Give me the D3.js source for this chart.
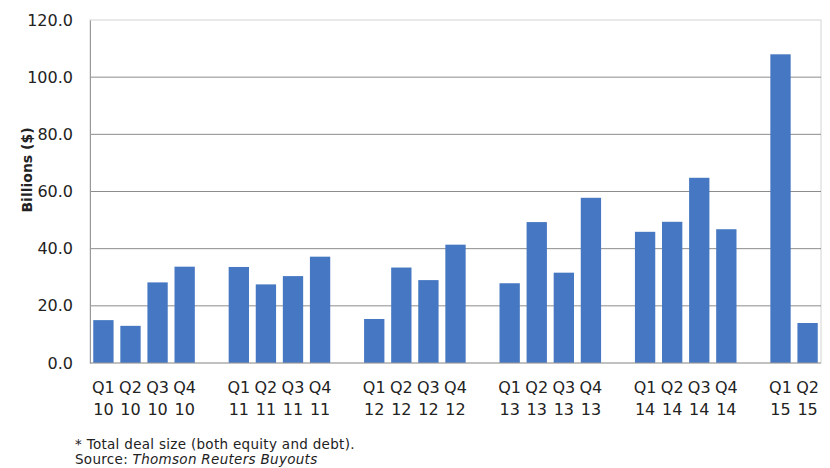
<!DOCTYPE html>
<html>
<head>
<meta charset="utf-8">
<script src="https://cdn.jsdelivr.net/npm/d3@7"></script>
<style>
  html, body { margin: 0; padding: 0; background: #fff; }
  svg { display: block; }
  text { font-family: "DejaVu Sans", "Open Sans", sans-serif; fill: #222; }
</style>
</head>
<body>
<svg id="chart" width="830" height="468"></svg>
<script>
// Quarterly buyout deal value, billions of dollars
const quarters = ["Q1", "Q2", "Q3", "Q4"];
const years = ["10", "11", "12", "13", "14", "15"];
const quarterCounts = [4, 4, 4, 4, 4, 2];
const values = [
  15.0, 13.0, 28.2, 33.7,
  33.6, 27.5, 30.4, 37.2,
  15.4, 33.4, 29.0, 41.4,
  27.9, 49.3, 31.6, 57.8,
  45.9, 49.4, 64.8, 46.8,
  108.0, 14.0
];
const yTicks = [0, 20, 40, 60, 80, 100, 120];

// Build category slots: each year's quarters followed by an empty spacer slot
const bars = [];
const slots = [];
let vi = 0;
years.forEach((yr, yi) => {
  for (let q = 0; q < quarterCounts[yi]; q++) {
    const key = quarters[q] + "-" + yr;
    slots.push(key);
    bars.push({ key, quarter: quarters[q], year: yr, value: values[vi++] });
  }
  if (yi < years.length - 1) slots.push("gap-" + yr);
});

const svg = d3.select("#chart");
const margin = { left: 90, right: 9, top: 20, bottom: 105 };
const W = 830, H = 468;
const x = d3.scaleBand().domain(slots)
  .range([margin.left, W - margin.right])
  .paddingInner(0.25).paddingOuter(0.12);
const y = d3.scaleLinear().domain([0, 120]).range([H - margin.bottom, margin.top]);

// plot frame
svg.append("rect")
  .attr("x", margin.left).attr("y", margin.top)
  .attr("width", W - margin.right - margin.left)
  .attr("height", y(0) - margin.top)
  .attr("fill", "none").attr("stroke", "#d4d4d4").attr("stroke-width", 1);

// gridlines
svg.append("g").selectAll("line")
  .data(yTicks.filter(t => t > 0 && t < 120))
  .join("line")
  .attr("x1", margin.left).attr("x2", W - margin.right)
  .attr("y1", d => y(d)).attr("y2", d => y(d))
  .attr("stroke", "#8c8c8c").attr("stroke-width", 1);

// y axis
const yAxis = svg.append("g")
  .attr("transform", `translate(${margin.left},0)`)
  .call(d3.axisLeft(y).tickValues(yTicks).tickFormat(d3.format(".1f")).tickSize(0).tickPadding(17));
yAxis.select(".domain").attr("stroke", "#999");
yAxis.selectAll("text").style("font-size", "16px").attr("fill", "#222");

// bars
svg.append("g").selectAll("rect")
  .data(bars)
  .join("rect")
  .attr("x", d => x(d.key))
  .attr("width", x.bandwidth())
  .attr("y", d => y(d.value))
  .attr("height", d => y(0) - y(d.value))
  .attr("fill", "#4677c2");

// baseline
svg.append("line")
  .attr("x1", margin.left).attr("x2", W - margin.right)
  .attr("y1", y(0)).attr("y2", y(0))
  .attr("stroke", "#999");

// x labels: quarter on first line, year on second
const xl = svg.append("g").selectAll("text")
  .data(bars)
  .join("text")
  .attr("x", d => x(d.key) + x.bandwidth() / 2)
  .attr("text-anchor", "middle")
  .style("font-size", "16px");
xl.append("tspan").attr("x", d => x(d.key) + x.bandwidth() / 2).attr("y", 393).text(d => d.quarter);
xl.append("tspan").attr("x", d => x(d.key) + x.bandwidth() / 2).attr("y", 415).text(d => d.year);

// y axis title
svg.append("text")
  .attr("transform", "translate(32,170) rotate(-90)")
  .attr("text-anchor", "middle")
  .style("font-size", "14px").style("font-weight", "bold")
  .text("Billions ($)");

// footnotes
svg.append("text").attr("x", 75).attr("y", 449)
  .style("font-size", "13.5px").style("letter-spacing", "0.3px")
  .text("* Total deal size (both equity and debt).");
const src = svg.append("text").attr("x", 75).attr("y", 464)
  .style("font-size", "13.5px").style("letter-spacing", "0.3px");
src.append("tspan").text("Source: ");
src.append("tspan").style("font-style", "italic").text("Thomson Reuters Buyouts");
</script>
</body>
</html>
